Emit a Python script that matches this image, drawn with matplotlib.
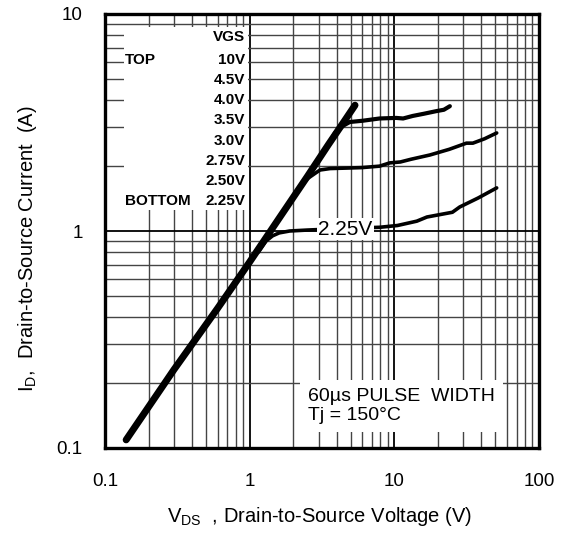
import numpy as np
import matplotlib
matplotlib.use("Agg")
import matplotlib.pyplot as plt
from matplotlib.patches import Rectangle

plt.rcParams['font.family'] = ['Liberation Sans', 'DejaVu Sans']
plt.rcParams['mathtext.default'] = 'regular'

# linear region (10V, 4.5V, 4.0V overlap here)
vds_lin = [0.14, 0.3, 0.6, 1.0, 1.62, 2.5, 3.5, 4.5, 5.35]
id_lin = [0.109, 0.23, 0.44, 0.72, 1.16, 1.78, 2.5, 3.2, 3.8]

# VGS = 3.5V
vds_35 = [3.0, 3.5, 3.89, 4.4, 4.93, 6.0, 7.9, 10.3, 11.5, 13.4, 16.0, 19.6, 22.0, 24.2]
id_35 = [2.15, 2.5, 2.83, 3.05, 3.18, 3.22, 3.3, 3.32, 3.3, 3.39, 3.47, 3.57, 3.62, 3.76]

# VGS = 3.0V
vds_30 = [2.0, 2.5, 3.06, 3.6, 4.7, 6.0, 7.9, 9.3, 11.0, 13.0, 17.6, 24.0, 31.5, 34.9, 42.0, 51.0]
id_30 = [1.45, 1.74, 1.91, 1.94, 1.95, 1.96, 1.99, 2.06, 2.08, 2.14, 2.24, 2.38, 2.54, 2.54, 2.66, 2.83]

# VGS = 2.25V
vds_225 = [1.15, 1.3, 1.44, 1.6, 1.89, 2.5, 3.5, 5.0, 7.9, 10.5, 14.3, 16.8, 25.2, 28.3, 38.0, 51.0]
id_225 = [0.80, 0.9, 0.95, 0.98, 1.0, 1.01, 1.02, 1.03, 1.04, 1.06, 1.11, 1.16, 1.22, 1.29, 1.42, 1.58]

legend_vgs = ['10V', '4.5V', '4.0V', '3.5V', '3.0V', '2.75V', '2.50V', '2.25V']

fig = plt.figure(figsize=(5.65, 5.33), dpi=100)
ax = fig.add_axes([105 / 565, 1 - 448 / 533, 434 / 565, 434 / 533])

ax.set_xscale('log')
ax.set_yscale('log')
ax.set_xlim(0.1, 100)
ax.set_ylim(0.1, 10)

ax.grid(True, which='major', color='black', lw=1.3, zorder=0)
ax.grid(True, which='minor', color='#444444', lw=1.0, zorder=0)
ax.tick_params(which='both', length=0)
ax.tick_params(axis='x', pad=18, labelsize=13.5)
ax.tick_params(axis='y', pad=16, labelsize=13.5)
ax.set_xticks([0.1, 1, 10, 100])
ax.set_xticklabels(['0.1', '1', '10', '100'])
ax.set_yticks([0.1, 1, 10])
ax.set_yticklabels(['0.1', '1', '10'])
ax.xaxis.set_minor_formatter(plt.NullFormatter())
ax.yaxis.set_minor_formatter(plt.NullFormatter())
for s in ax.spines.values():
    s.set_linewidth(2.4)
    s.set_zorder(10)

# white area behind the VGS legend
ax.add_patch(Rectangle((19 / 434, 238 / 434), 124 / 434, 183 / 434,
                       transform=ax.transAxes, facecolor='white',
                       edgecolor='none', zorder=2))

ax.plot(vds_lin, id_lin, color='black', lw=5, solid_capstyle='round', zorder=4)
ax.plot(vds_35, id_35, color='black', lw=3, solid_capstyle='round', zorder=4)
ax.plot(vds_30, id_30, color='black', lw=2.6, solid_capstyle='round', zorder=4)
ax.plot(vds_225, id_225, color='black', lw=2.6, solid_capstyle='round', zorder=4)

ax.text(4.6, 1.02, '2.25V', fontsize=15, ha='center', va='center', zorder=5,
        bbox=dict(facecolor='white', edgecolor='none', pad=1))

# legend text
bold = dict(fontsize=11, fontweight='bold', zorder=5, va='center')
rx = 245 / 565
fig.text(rx, 1 - 37 / 533, 'VGS', ha='right', **bold)
fig.text(125 / 565, 1 - 60 / 533, 'TOP', ha='left', **bold)
fig.text(125 / 565, 1 - 201 / 533, 'BOTTOM', ha='left', **bold)
ys = [60, 80, 100, 120, 141, 161, 181, 201]
for lab, y in zip(legend_vgs, ys):
    fig.text(rx, 1 - y / 533, lab, ha='right', **bold)

ax.text(308 / 565, 1 - 406 / 533, '60\u00b5s PULSE  WIDTH\nTj = 150\u00b0C',
        transform=fig.transFigure, fontsize=14, ha='left', va='center',
        linespacing=1.1, zorder=5,
        bbox=dict(facecolor='white', edgecolor='none', pad=6))

fig.text(320 / 565, 1 - 516 / 533, r'$V_{DS}$  , Drain-to-Source Voltage (V)',
         fontsize=14.5, ha='center', va='center')
fig.text(28 / 565, 1 - 249 / 533, r'$I_D$,  Drain-to-Source Current  (A)',
         fontsize=14.5, ha='center', va='center', rotation=90)

fig.savefig('out.png', dpi=100)
